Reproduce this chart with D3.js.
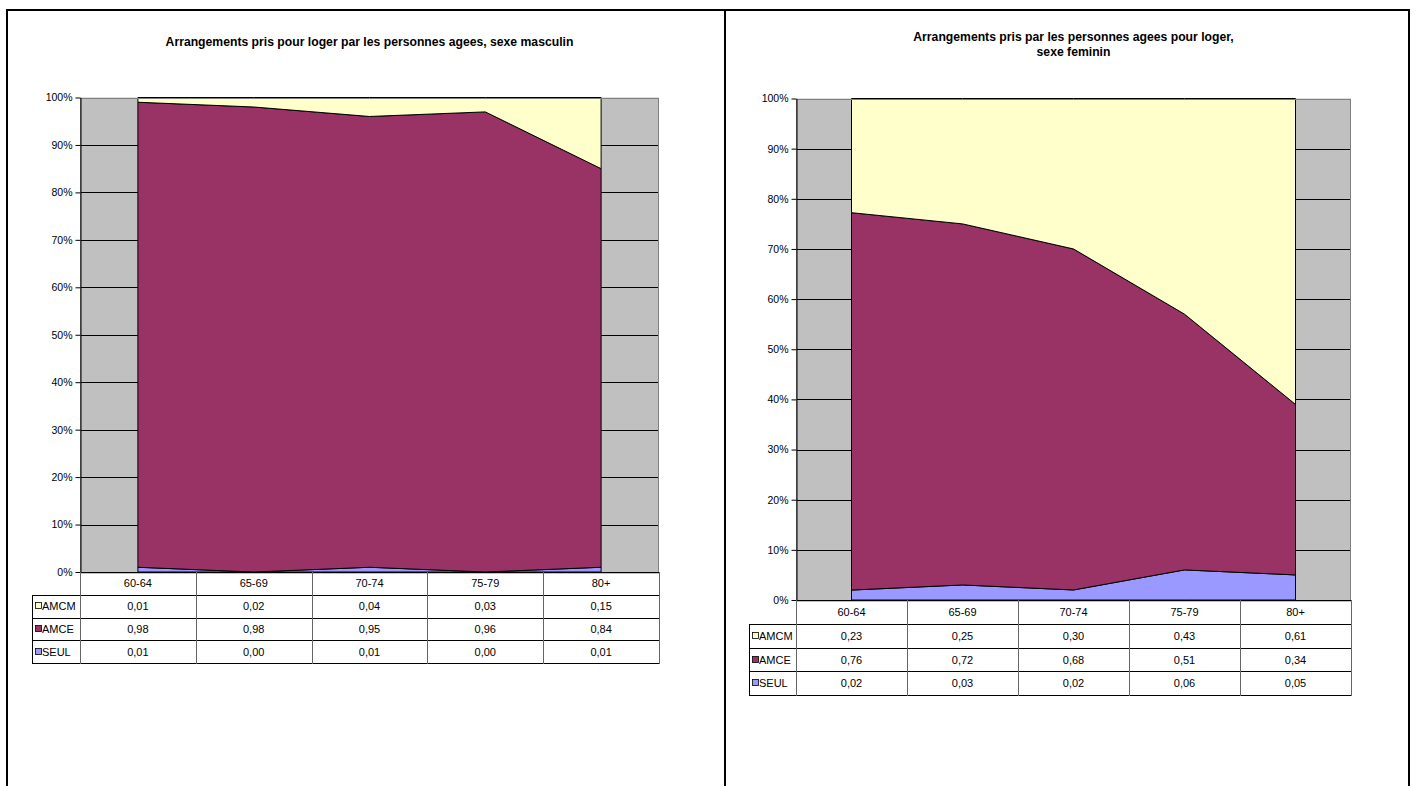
<!DOCTYPE html>
<html>
<head>
<meta charset="utf-8">
<script src="https://cdn.jsdelivr.net/npm/d3@7"></script>
<style>
  html, body { margin: 0; padding: 0; background: #fff; }
  svg { display: block; font-family: "Liberation Sans", Arial, sans-serif; }
</style>
</head>
<body>
<svg id="chart" width="1416" height="786"></svg>
<script>
// Age groups (categories)
const ageGroups = ["60-64", "65-69", "70-74", "75-79", "80+"];
// Series, in table order (top to bottom)
const seriesNames = ["AMCM", "AMCE", "SEUL"];
// Y axis tick labels
const yTicks = [0, 0.1, 0.2, 0.3, 0.4, 0.5, 0.6, 0.7, 0.8, 0.9, 1.0];

// Men
const maleAMCM = [0.01, 0.02, 0.04, 0.03, 0.15];
const maleAMCE = [0.98, 0.98, 0.95, 0.96, 0.84];
const maleSEUL = [0.01, 0.00, 0.01, 0.00, 0.01];

// Women
const femaleAMCM = [0.23, 0.25, 0.30, 0.43, 0.61];
const femaleAMCE = [0.76, 0.72, 0.68, 0.51, 0.34];
const femaleSEUL = [0.02, 0.03, 0.02, 0.06, 0.05];

const titleMale = ["Arrangements pris pour loger par les personnes agees, sexe masculin"];
const titleFemale = ["Arrangements pris par les personnes agees pour loger,", "sexe feminin"];

const colors = { AMCM: "#FFFFCC", AMCE: "#993366", SEUL: "#9999FF" };
const plotBg = "#C0C0C0";

const svg = d3.select("#chart");

// Chart frames
svg.append("rect")
  .attr("x", 7).attr("y", 10)
  .attr("width", 1402).attr("height", 800)
  .attr("fill", "none").attr("stroke", "#000").attr("stroke-width", 2);
svg.append("line")
  .attr("x1", 725).attr("x2", 725).attr("y1", 10).attr("y2", 786)
  .attr("stroke", "#000").attr("stroke-width", 2);

function buildRows(amcm, amce, seul) {
  return ageGroups.map((g, i) => ({ group: g, AMCM: amcm[i], AMCE: amce[i], SEUL: seul[i] }));
}

function drawPanel(opts) {
  const { title, titleY, rows, x0, x1, yTop, yBottom, rowH, legendX } = opts;
  const g = svg.append("g");

  // Title
  const t = g.append("text")
    .attr("x", (x0 + x1) / 2)
    .attr("text-anchor", "middle")
    .attr("font-weight", "bold")
    .attr("font-size", "12.2px")
    .attr("fill", "#000");
  title.forEach((line, i) => {
    t.append("tspan").attr("x", (x0 + x1) / 2).attr("y", titleY + i * 15).text(line);
  });

  const x = d3.scaleBand().domain(ageGroups).range([x0, x1]).padding(0);
  const cx = d => x(d) + x.bandwidth() / 2;
  const y = d3.scaleLinear().domain([0, 1]).range([yBottom, yTop]);

  // Plot background
  g.append("rect")
    .attr("x", x0).attr("y", yTop)
    .attr("width", x1 - x0).attr("height", yBottom - yTop)
    .attr("fill", plotBg);

  // Gridlines
  g.append("g").selectAll("line")
    .data(yTicks.filter(v => v > 0))
    .join("line")
    .attr("x1", x0).attr("x2", x1)
    .attr("y1", d => Math.round(y(d)) + 0.5).attr("y2", d => Math.round(y(d)) + 0.5)
    .attr("stroke", "#000").attr("stroke-width", 1);

  // Stacked areas, normalised to 100%
  const stack = d3.stack()
    .keys(["SEUL", "AMCE", "AMCM"])
    .offset(d3.stackOffsetExpand);
  const layers = stack(rows);
  const area = d3.area()
    .x(d => cx(d.data.group))
    .y0(d => y(d[0]))
    .y1(d => y(d[1]));

  g.append("g").selectAll("path")
    .data(layers)
    .join("path")
    .attr("d", area)
    .attr("fill", d => colors[d.key])
    .attr("stroke", "#000")
    .attr("stroke-width", 1)
    .attr("stroke-linejoin", "round");

  // Plot border
  g.append("rect")
    .attr("x", x0 + 0.5).attr("y", Math.round(yTop) + 0.5)
    .attr("width", x1 - x0 - 1).attr("height", yBottom - yTop)
    .attr("fill", "none").attr("stroke", "#808080").attr("stroke-width", 1);

  // Y axis
  const yAxis = d3.axisLeft(y)
    .tickValues(yTicks)
    .tickFormat(d3.format(".0%"))
    .tickSize(5)
    .tickSizeOuter(0)
    .tickPadding(3);
  const ax = g.append("g")
    .attr("transform", `translate(${x0 + 0.5},0)`)
    .call(yAxis);
  ax.select(".domain").attr("stroke", "#000");
  ax.selectAll(".tick line").attr("stroke", "#000");
  ax.selectAll(".tick text")
    .attr("font-size", "10.5px")
    .attr("font-family", "Liberation Sans, Arial, sans-serif")
    .attr("fill", "#000");

  // Data table
  const tableTop = yBottom;
  const rowY = i => tableTop + i * rowH;
  const tbl = g.append("g");

  // horizontal rules
  // header row spans the plot width only
  tbl.append("line")
    .attr("x1", x0).attr("x2", x1)
    .attr("y1", Math.round(rowY(0)) + 0.5).attr("y2", Math.round(rowY(0)) + 0.5)
    .attr("stroke", "#000");
  for (let r = 1; r <= 4; r++) {
    tbl.append("line")
      .attr("x1", legendX).attr("x2", x1)
      .attr("y1", Math.round(rowY(r)) + 0.5).attr("y2", Math.round(rowY(r)) + 0.5)
      .attr("stroke", "#000");
  }
  // vertical rules
  const vx = [x0].concat(ageGroups.map(a => x(a) + x.bandwidth()));
  vx.forEach(v => {
    tbl.append("line")
      .attr("x1", Math.round(v) + 0.5).attr("x2", Math.round(v) + 0.5)
      .attr("y1", rowY(0)).attr("y2", Math.round(rowY(4)) + 1)
      .attr("stroke", "#666");
  });
  tbl.append("line")
    .attr("x1", legendX + 0.5).attr("x2", legendX + 0.5)
    .attr("y1", Math.round(rowY(1))).attr("y2", Math.round(rowY(4)) + 1)
    .attr("stroke", "#000");

  // category header
  tbl.selectAll("text.cat")
    .data(ageGroups)
    .join("text")
    .attr("class", "cat")
    .attr("x", d => cx(d))
    .attr("y", rowY(0) + rowH / 2 + 4)
    .attr("text-anchor", "middle")
    .attr("font-size", "11px")
    .text(d => d);

  // series rows
  const fmt = v => d3.format(".2f")(v).replace(".", ",");
  seriesNames.forEach((name, si) => {
    const ry = rowY(si + 1);
    tbl.append("rect")
      .attr("x", legendX + 3.5).attr("y", Math.round(ry + rowH / 2 - 4) + 0.5)
      .attr("width", 6).attr("height", 6)
      .attr("fill", colors[name]).attr("stroke", "#000").attr("stroke-width", 0.8);
    tbl.append("text")
      .attr("x", legendX + 10)
      .attr("y", ry + rowH / 2 + 4)
      .attr("font-size", "11px")
      .text(name);
    tbl.selectAll(null)
      .data(rows)
      .join("text")
      .attr("x", d => cx(d.group))
      .attr("y", ry + rowH / 2 + 4)
      .attr("text-anchor", "middle")
      .attr("font-size", "11px")
      .text(d => fmt(d[name]));
  });
}

drawPanel({
  title: titleMale,
  titleY: 46,
  rows: buildRows(maleAMCM, maleAMCE, maleSEUL),
  x0: 80, x1: 659, yTop: 97.5, yBottom: 572,
  rowH: 22.8, legendX: 32
});

drawPanel({
  title: titleFemale,
  titleY: 41,
  rows: buildRows(femaleAMCM, femaleAMCE, femaleSEUL),
  x0: 796, x1: 1351, yTop: 98.5, yBottom: 600,
  rowH: 23.8, legendX: 749
});
</script>
</body>
</html>
